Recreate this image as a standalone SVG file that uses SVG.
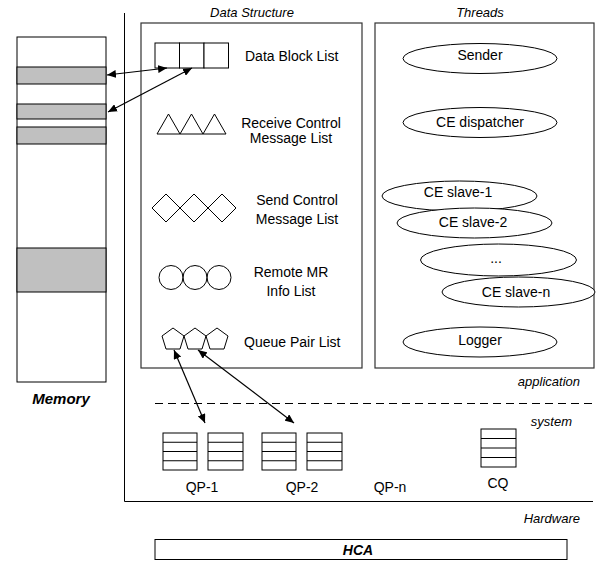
<svg xmlns="http://www.w3.org/2000/svg" width="602" height="561" viewBox="0 0 602 561">
<defs>
<marker id="ah" markerWidth="9" markerHeight="8" refX="9" refY="4" orient="auto-start-reverse" markerUnits="userSpaceOnUse">
<path d="M0,0 L9,4 L0,8 Z" fill="#000"/>
</marker>
<style>
.t{font-family:"Liberation Sans",Arial,sans-serif;font-size:14px;fill:#000}
.i{font-family:"Liberation Sans",Arial,sans-serif;font-size:13px;font-style:italic;fill:#000}
.b{font-family:"Liberation Sans",Arial,sans-serif;font-size:15px;font-style:italic;font-weight:bold;fill:#000}
.s{fill:none;stroke:#000;stroke-width:1}
.w{fill:#fff;stroke:#000;stroke-width:1}
.g{fill:#c0c0c0;stroke:#000;stroke-width:1}
.box{fill:#fff;stroke:#333;stroke-width:1.2}
.c{stroke:#000;stroke-width:1.2;fill:none}
</style>
</defs>
<rect width="602" height="561" fill="#fff"/>

<g id="memory">
<rect class="w" x="17" y="37" width="89" height="345"/>
<rect class="g" x="17" y="67" width="89" height="17"/>
<rect class="g" x="17" y="104" width="89" height="15"/>
<rect class="g" x="17" y="127" width="89" height="17"/>
<rect class="g" x="17" y="248" width="89" height="44"/>
<text class="b" x="61" y="404" text-anchor="middle">Memory</text>
</g>

<g id="frame">
<path class="s" d="M124.5,13 V501.5 H593"/>
<path class="s" d="M155,403.5 H593" stroke-dasharray="8,5"/>
<text class="i" x="580" y="386" text-anchor="end">application</text>
<text class="i" x="572" y="426" text-anchor="end">system</text>
<text class="i" x="580" y="523" text-anchor="end">Hardware</text>
</g>

<g id="data-structure">
<rect class="box" x="141" y="23" width="221" height="345"/>
<text class="i" x="252" y="17" text-anchor="middle">Data Structure</text>
</g>

<g id="data-block-list">
<rect class="w" x="155" y="43" width="24.5" height="25"/>
<rect class="w" x="179.5" y="43" width="24.5" height="25"/>
<rect class="w" x="204" y="43" width="24.5" height="25"/>
<text class="t" x="245" y="61">Data Block List</text>
</g>

<g id="receive-control-message-list">
<path class="s" d="M157,134 L168.5,114 L180,134 Z M180,134 L191.5,114 L203,134 Z M203,134 L214.5,114 L226,134 Z"/>
<text class="t" x="291" y="128" text-anchor="middle">Receive Control</text>
<text class="t" x="291" y="143" text-anchor="middle">Message List</text>
</g>

<g id="send-control-message-list">
<path class="s" d="M152,208 L166,194 L180,208 L166,222 Z M180,208 L194,194 L208,208 L194,222 Z M208,208 L222,194 L236,208 L222,222 Z"/>
<text class="t" x="297" y="205" text-anchor="middle">Send Control</text>
<text class="t" x="297" y="224" text-anchor="middle">Message List</text>
</g>

<g id="remote-mr-info-list">
<circle class="s" cx="171" cy="277.5" r="12"/>
<circle class="s" cx="195" cy="277.5" r="12"/>
<circle class="s" cx="219" cy="277.5" r="12"/>
<text class="t" x="291" y="277" text-anchor="middle">Remote MR</text>
<text class="t" x="291" y="296" text-anchor="middle">Info List</text>
</g>

<g id="queue-pair-list">
<path class="s" d="M173,328 L184,336 L180,349 L166,349 L162,336 Z M195,328 L206,336 L202,349 L188,349 L184,336 Z M217,328 L228,336 L224,349 L210,349 L206,336 Z"/>
<text class="t" x="244" y="347">Queue Pair List</text>
</g>

<g id="threads">
<rect class="box" x="375" y="23" width="219" height="345"/>
<text class="i" x="480" y="17" text-anchor="middle">Threads</text>
</g>

<g id="sender">
<ellipse class="w" cx="480" cy="58.5" rx="77" ry="15"/>
<text class="t" x="480" y="60" text-anchor="middle">Sender</text>
</g>
<g id="ce-dispatcher">
<ellipse class="w" cx="480" cy="122.5" rx="77" ry="15"/>
<text class="t" x="480" y="127" text-anchor="middle">CE dispatcher</text>
</g>
<g id="ce-slave-1">
<ellipse class="w" cx="459.5" cy="196" rx="77.5" ry="15"/>
<text class="t" x="458" y="197" text-anchor="middle">CE slave-1</text>
</g>
<g id="ce-slave-2">
<ellipse class="w" cx="474.5" cy="223" rx="77.5" ry="15"/>
<text class="t" x="473" y="227" text-anchor="middle">CE slave-2</text>
</g>
<g id="ce-slave-dots">
<ellipse class="w" cx="498.5" cy="260" rx="78" ry="16"/>
<text class="t" x="496" y="263" text-anchor="middle">...</text>
</g>
<g id="ce-slave-n">
<ellipse class="w" cx="518.5" cy="292" rx="76.5" ry="15"/>
<text class="t" x="516" y="297" text-anchor="middle">CE slave-n</text>
</g>
<g id="logger">
<ellipse class="w" cx="480" cy="342" rx="77" ry="15"/>
<text class="t" x="480" y="345" text-anchor="middle">Logger</text>
</g>

<g id="qp-1">
<rect class="w" x="163" y="433" width="34" height="37"/>
<path class="s" d="M163,442.25 H197 M163,451.5 H197 M163,460.75 H197"/>
<rect class="w" x="208" y="433" width="35" height="37"/>
<path class="s" d="M208,442.25 H243 M208,451.5 H243 M208,460.75 H243"/>
<text class="t" x="202" y="492" text-anchor="middle">QP-1</text>
</g>
<g id="qp-2">
<rect class="w" x="262" y="433" width="34" height="37"/>
<path class="s" d="M262,442.25 H296 M262,451.5 H296 M262,460.75 H296"/>
<rect class="w" x="307" y="433" width="35" height="37"/>
<path class="s" d="M307,442.25 H342 M307,451.5 H342 M307,460.75 H342"/>
<text class="t" x="302" y="492" text-anchor="middle">QP-2</text>
</g>
<g id="qp-n">
<text class="t" x="390" y="492" text-anchor="middle">QP-n</text>
</g>
<g id="cq">
<rect class="w" x="481" y="429" width="35" height="38"/>
<path class="s" d="M481,438.5 H516 M481,448 H516 M481,457.5 H516"/>
<text class="t" x="498" y="488" text-anchor="middle">CQ</text>
</g>

<g id="hca">
<rect class="w" x="155" y="539.5" width="412" height="20"/>
<text class="b" x="358" y="555" text-anchor="middle" style="font-size:14px">HCA</text>
</g>

<g id="connectors">
<line class="c" x1="107" y1="75" x2="167" y2="68" marker-start="url(#ah)" marker-end="url(#ah)"/>
<line class="c" x1="108" y1="112" x2="192" y2="68" marker-start="url(#ah)" marker-end="url(#ah)"/>
<line class="c" x1="174" y1="350" x2="205" y2="423" marker-start="url(#ah)" marker-end="url(#ah)"/>
<line class="c" x1="198" y1="350" x2="294" y2="423" marker-start="url(#ah)" marker-end="url(#ah)"/>
</g>
</svg>
